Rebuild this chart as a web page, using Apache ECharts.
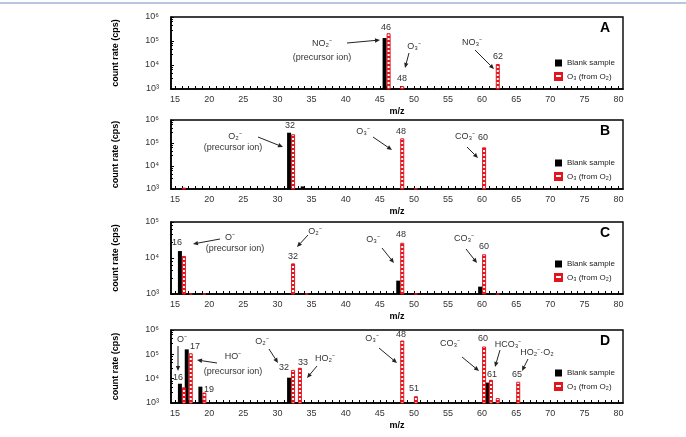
<!DOCTYPE html>
<html>
<head>
<meta charset="utf-8">
<script src="https://cdn.jsdelivr.net/npm/echarts@6/dist/echarts.min.js"></script>
<style>html,body{margin:0;padding:0;background:#fff;}</style>
</head>
<body>
<div id="main" style="width:686px;height:437px;"></div>
<script>
// count rates (cps), one pair of arrays per panel
var mzA = [46, 48, 62];
var blankA = [133000, null, null];
var ozoneA = [210000, 1330, 11000];

var mzB = [16, 32, 34, 48, 50, 60, 61];
var blankB = [null, 280000, 1300, null, null, 1100, null];
var ozoneB = [1150, 240000, null, 160000, 1080, 65000, 1050];

var mzC = [16, 17, 19, 32, 34, 48, 50, 60, 62];
var blankC = [15600, null, null, null, null, 2350, null, 1600, null];
var ozoneC = [11400, 1040, 1040, 7100, 1040, 26500, 1040, 12700, 1040];

var mzD = [16, 17, 19, 32, 33, 48, 50, 60, 61, 62, 65];
var blankD = [6200, 160000, 4700, 11000, null, null, null, null, 6900, null, null];
var ozoneD = [4400, 110000, 2700, 23000, 28000, 370000, 1900, 210000, 9000, 1600, 7500];

var xLabels = [15, 20, 25, 30, 35, 40, 45, 50, 55, 60, 65, 70, 75, 80];
var yLabels = {1000: '10³', 10000: '10⁴', 100000: '10⁵', 1000000: '10⁶'};
var names = ['Blank sample', 'O₃ (from O₂)'];

var font = '"Liberation Sans", Arial, sans-serif';
var red = '#e3141c';

var panels = [
    {mz: mzA, blank: blankA, ozone: ozoneA, yMax: 1e6, top: 17, height: 72, letter: 'A', legendTop: 54},
    {mz: mzB, blank: blankB, ozone: ozoneB, yMax: 1e6, top: 120, height: 69, letter: 'B', legendTop: 154},
    {mz: mzC, blank: blankC, ozone: ozoneC, yMax: 1e5, top: 222, height: 72, letter: 'C', legendTop: 255},
    {mz: mzD, blank: blankD, ozone: ozoneD, yMax: 1e6, top: 330, height: 73, letter: 'D', legendTop: 364}
];

// labels and arrows drawn over the plots
var notes = [
    ['NO₂⁻', 322, 44], ['(precursor ion)', 322, 58], ['46', 386, 28], ['O₃⁻', 414, 47],
    ['48', 402, 79], ['NO₃⁻', 472, 43], ['62', 498, 57],
    ['O₂⁻', 235, 137], ['(precursor ion)', 233, 148], ['32', 290, 126], ['O₃⁻', 363, 132],
    ['48', 401, 132], ['CO₃⁻', 465, 137], ['60', 483, 138],
    ['16', 177, 243], ['O⁻', 230, 238], ['(precursor ion)', 235, 249], ['O₂⁻', 315, 232],
    ['32', 293, 257], ['O₃⁻', 373, 240], ['48', 401, 235], ['CO₃⁻', 464, 239], ['60', 484, 247],
    ['O⁻', 182, 340], ['16', 178, 378], ['17', 195, 347], ['HO⁻', 233, 357],
    ['(precursor ion)', 233, 372], ['19', 209, 390], ['O₂⁻', 262, 342], ['32', 284, 368],
    ['33', 303, 363], ['HO₂⁻', 325, 359], ['O₃⁻', 372, 339], ['48', 401, 335], ['51', 414, 389],
    ['CO₃⁻', 450, 344], ['60', 483, 339], ['HCO₃⁻', 508, 345], ['61', 492, 375],
    ['HO₂⁻·O₂', 537, 353], ['65', 517, 375]
];
var arrows = [
    [347, 43, 380, 40], [409, 53, 405, 68], [475, 50, 494, 69],
    [258, 137, 283, 147], [373, 137, 392, 150], [467, 147, 478, 158],
    [220, 239, 193, 244], [308, 235, 297, 247], [382, 248, 394, 263], [466, 249, 477, 263],
    [178, 346, 178, 371], [217, 363, 197, 360], [269, 349, 278, 363], [317, 366, 307, 378],
    [379, 348, 397, 363], [462, 357, 479, 371], [500, 350, 495, 367], [528, 359, 522, 371]
];

// red/white checkered fill for the O3 bars
var pat = document.createElement('canvas');
pat.width = 4; pat.height = 4;
var ctx = pat.getContext('2d');
ctx.fillStyle = red; ctx.fillRect(0, 0, 4, 4);
ctx.fillStyle = '#fff'; ctx.fillRect(0, 2, 4, 2);

var tickVals = [];
for (var t = 15; t <= 80; t++) tickVals.push(t);

function arrow(x1, y1, x2, y2) {
    var a = Math.atan2(y2 - y1, x2 - x1), L = 5, W = 2.2;
    var bx = x2 - L * Math.cos(a), by = y2 - L * Math.sin(a);
    return [
        {type: 'line', silent: true, shape: {x1: x1, y1: y1, x2: bx, y2: by}, style: {stroke: '#222', lineWidth: 1}},
        {type: 'polygon', silent: true, shape: {points: [[x2, y2],
            [bx + W * Math.sin(a), by - W * Math.cos(a)], [bx - W * Math.sin(a), by + W * Math.cos(a)]]},
            style: {fill: '#222'}}
    ];
}

var grid = [], xAxis = [], yAxis = [], series = [], legend = [], graphic = [];

graphic.push({type: 'line', silent: true, shape: {x1: 0, y1: 3, x2: 686, y2: 3}, style: {stroke: '#9fb4d2', lineWidth: 1.5}});

panels.forEach(function (p, i) {
    grid.push({left: 171, top: p.top, width: 452, height: p.height, show: true,
        borderColor: '#000', borderWidth: 1.4, backgroundColor: 'transparent'});
    xAxis.push({
        gridIndex: i, type: 'value', min: 14.4, max: 80.65,
        name: 'm/z', nameLocation: 'middle', nameGap: 18,
        nameTextStyle: {fontFamily: font, fontWeight: 'bold', fontSize: 9, color: '#000'},
        axisLine: {onZero: false, lineStyle: {color: '#000', width: 1.6}},
        axisTick: {inside: true, length: 3, customValues: tickVals, lineStyle: {color: '#000'}},
        axisLabel: {customValues: xLabels, fontFamily: font, fontSize: 9, color: '#333', margin: 6},
        splitLine: {show: false}
    });
    yAxis.push({
        gridIndex: i, type: 'log', min: 1000, max: p.yMax,
        name: 'count rate (cps)', nameLocation: 'middle', nameGap: 51,
        nameTextStyle: {fontFamily: font, fontWeight: 'bold', fontSize: 9, color: '#000'},
        axisLine: {show: true, lineStyle: {color: '#000', width: 1.6}},
        axisTick: {inside: true, length: 3, lineStyle: {color: '#000'}},
        minorTick: {show: true, splitNumber: 5, length: 2, lineStyle: {color: '#000'}},
        axisLabel: {fontFamily: font, fontSize: 9, color: '#333', margin: 12,
            formatter: function (v) { return yLabels[Math.round(v)] || ''; }},
        splitLine: {show: false}
    });
    series.push({
        name: names[0], type: 'bar', xAxisIndex: i, yAxisIndex: i, barWidth: 4, barGap: '0%',
        itemStyle: {color: '#000'},
        data: p.mz.map(function (m, k) { return [m, p.blank[k]]; })
    });
    series.push({
        name: names[1], type: 'bar', xAxisIndex: i, yAxisIndex: i, barWidth: 4, barGap: '0%',
        itemStyle: {color: {image: pat, repeat: 'repeat'}, borderColor: red, borderWidth: 1},
        data: p.mz.map(function (m, k) { return [m, p.ozone[k]]; })
    });
    legend.push({
        data: names, orient: 'vertical', left: 549, top: p.legendTop,
        icon: 'rect', itemWidth: 7, itemHeight: 7, itemGap: 5, selectedMode: false,
        textStyle: {fontFamily: font, fontSize: 8, color: '#222'}
    });
    graphic.push({type: 'text', silent: true, style: {text: p.letter, x: 605, y: p.top + 11,
        font: 'bold 14px ' + font, fill: '#000', align: 'center', verticalAlign: 'middle',
        textAlign: 'center', textVerticalAlign: 'middle'}});
});

notes.forEach(function (n) {
    graphic.push({type: 'text', silent: true, style: {text: n[0], x: n[1], y: n[2],
        font: '9px ' + font, fill: '#333', align: 'center', verticalAlign: 'middle',
        textAlign: 'center', textVerticalAlign: 'middle'}});
});
arrows.forEach(function (a) {
    graphic = graphic.concat(arrow(a[0], a[1], a[2], a[3]));
});

var myChart = echarts.init(document.getElementById('main'));
myChart.setOption({
    animation: false,
    backgroundColor: '#fff',
    grid: grid, xAxis: xAxis, yAxis: yAxis, series: series, legend: legend,
    graphic: graphic
});
</script>
</body>
</html>
